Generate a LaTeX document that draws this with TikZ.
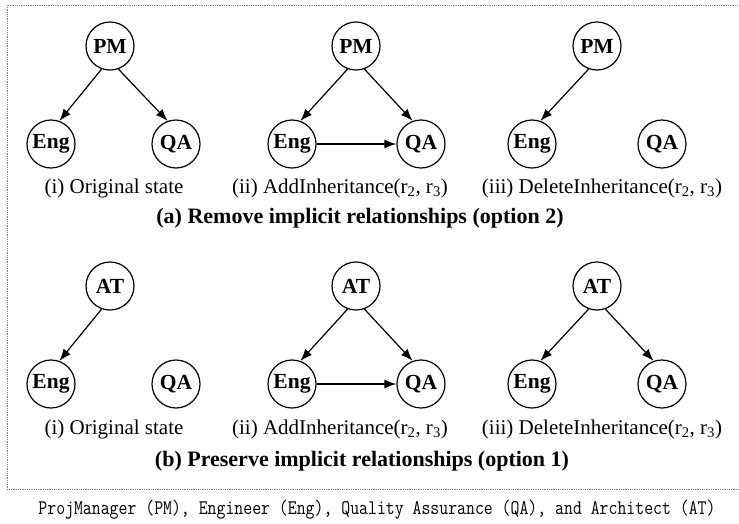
\documentclass[tikz,border=0pt]{standalone}
\usepackage{fontspec}
\setmainfont{Liberation Serif}
\usetikzlibrary{arrows.meta}
\begin{document}
\begin{tikzpicture}[x=1pt,y=-1pt,
  role/.style={circle, draw, line width=1.2pt, minimum size=48pt, inner sep=0pt,
    font=\fontsize{21.5}{25}\selectfont\bfseries},
  rel/.style={line width=1.2pt, -{Latex[length=12pt,width=9pt]}},
  subcap/.style={font=\fontsize{21}{25}\selectfont, inner sep=0pt},
  panelcap/.style={font=\fontsize{22}{26}\selectfont\bfseries, inner sep=0pt},
  foot/.style={font=\ttfamily\fontsize{17.3}{20}\selectfont, inner sep=0pt}]
\useasboundingbox (0,0) rectangle (739,523);
\coordinate (bTR) at (745,5);
\coordinate (bTL) at (7,5);
\coordinate (bBL) at (7,489);
\coordinate (bBR) at (745,489);
\draw[gray, densely dotted, line width=0.8pt] (bTR) -- (bTL) -- (bBL) -- (bBR);

% (a) top row
\node[role] (pm1) at (110,46) {PM};
\node[role] (eng1) at (51,144) {Eng};
\node[role] (qa1) at (176,144) {QA};
\node[role] (pm2) at (356,46) {PM};
\node[role] (eng2) at (292,144) {Eng};
\node[role] (qa2) at (421,144) {QA};
\node[role] (pm3) at (597,46) {PM};
\node[role] (eng3) at (532,144) {Eng};
\node[role] (qa3) at (662,144) {QA};
\draw[rel] (pm1.-110) -- (eng1.70);
\draw[rel] (pm1.-70) -- (qa1.110);
\draw[rel] (pm2.-110) -- (eng2.70);
\draw[rel] (pm2.-70) -- (qa2.110);
\draw[rel] (eng2.east) -- (qa2.west);
\draw[rel] (pm3.-110) -- (eng3.70);
\node[subcap] (s1) at (114,188) {(i) Original state};
\node[subcap] (s2) at (340,188) {(ii) AddInheritance(r\textsubscript{2}, r\textsubscript{3})};
\node[subcap] (s3) at (602,188) {(iii) DeleteInheritance(r\textsubscript{2}, r\textsubscript{3})};
\node[panelcap] (ca) at (360,218) {(a) Remove implicit relationships (option 2)};

% (b) bottom row
\node[role] (at1) at (110,286) {AT};
\node[role] (eng4) at (51,384) {Eng};
\node[role] (qa4) at (176,384) {QA};
\node[role] (at2) at (356,286) {AT};
\node[role] (eng5) at (292,384) {Eng};
\node[role] (qa5) at (421,384) {QA};
\node[role] (at3) at (597,286) {AT};
\node[role] (eng6) at (532,384) {Eng};
\node[role] (qa6) at (662,384) {QA};
\draw[rel] (at1.-110) -- (eng4.70);
\draw[rel] (at2.-110) -- (eng5.70);
\draw[rel] (at2.-70) -- (qa5.110);
\draw[rel] (eng5.east) -- (qa5.west);
\draw[rel] (at3.-110) -- (eng6.70);
\draw[rel] (at3.-70) -- (qa6.110);
\node[subcap] (s4) at (114,429) {(i) Original state};
\node[subcap] (s5) at (340,429) {(ii) AddInheritance(r\textsubscript{2}, r\textsubscript{3})};
\node[subcap] (s6) at (602,429) {(iii) DeleteInheritance(r\textsubscript{2}, r\textsubscript{3})};
\node[panelcap] (cb) at (362,461) {(b) Preserve implicit relationships (option 1)};

\node[foot, yscale=1.2, transform shape] (ft) at (377,510) {ProjManager (PM), Engineer (Eng), Quality Assurance (QA), and Architect (AT)};
\end{tikzpicture}
\end{document}
